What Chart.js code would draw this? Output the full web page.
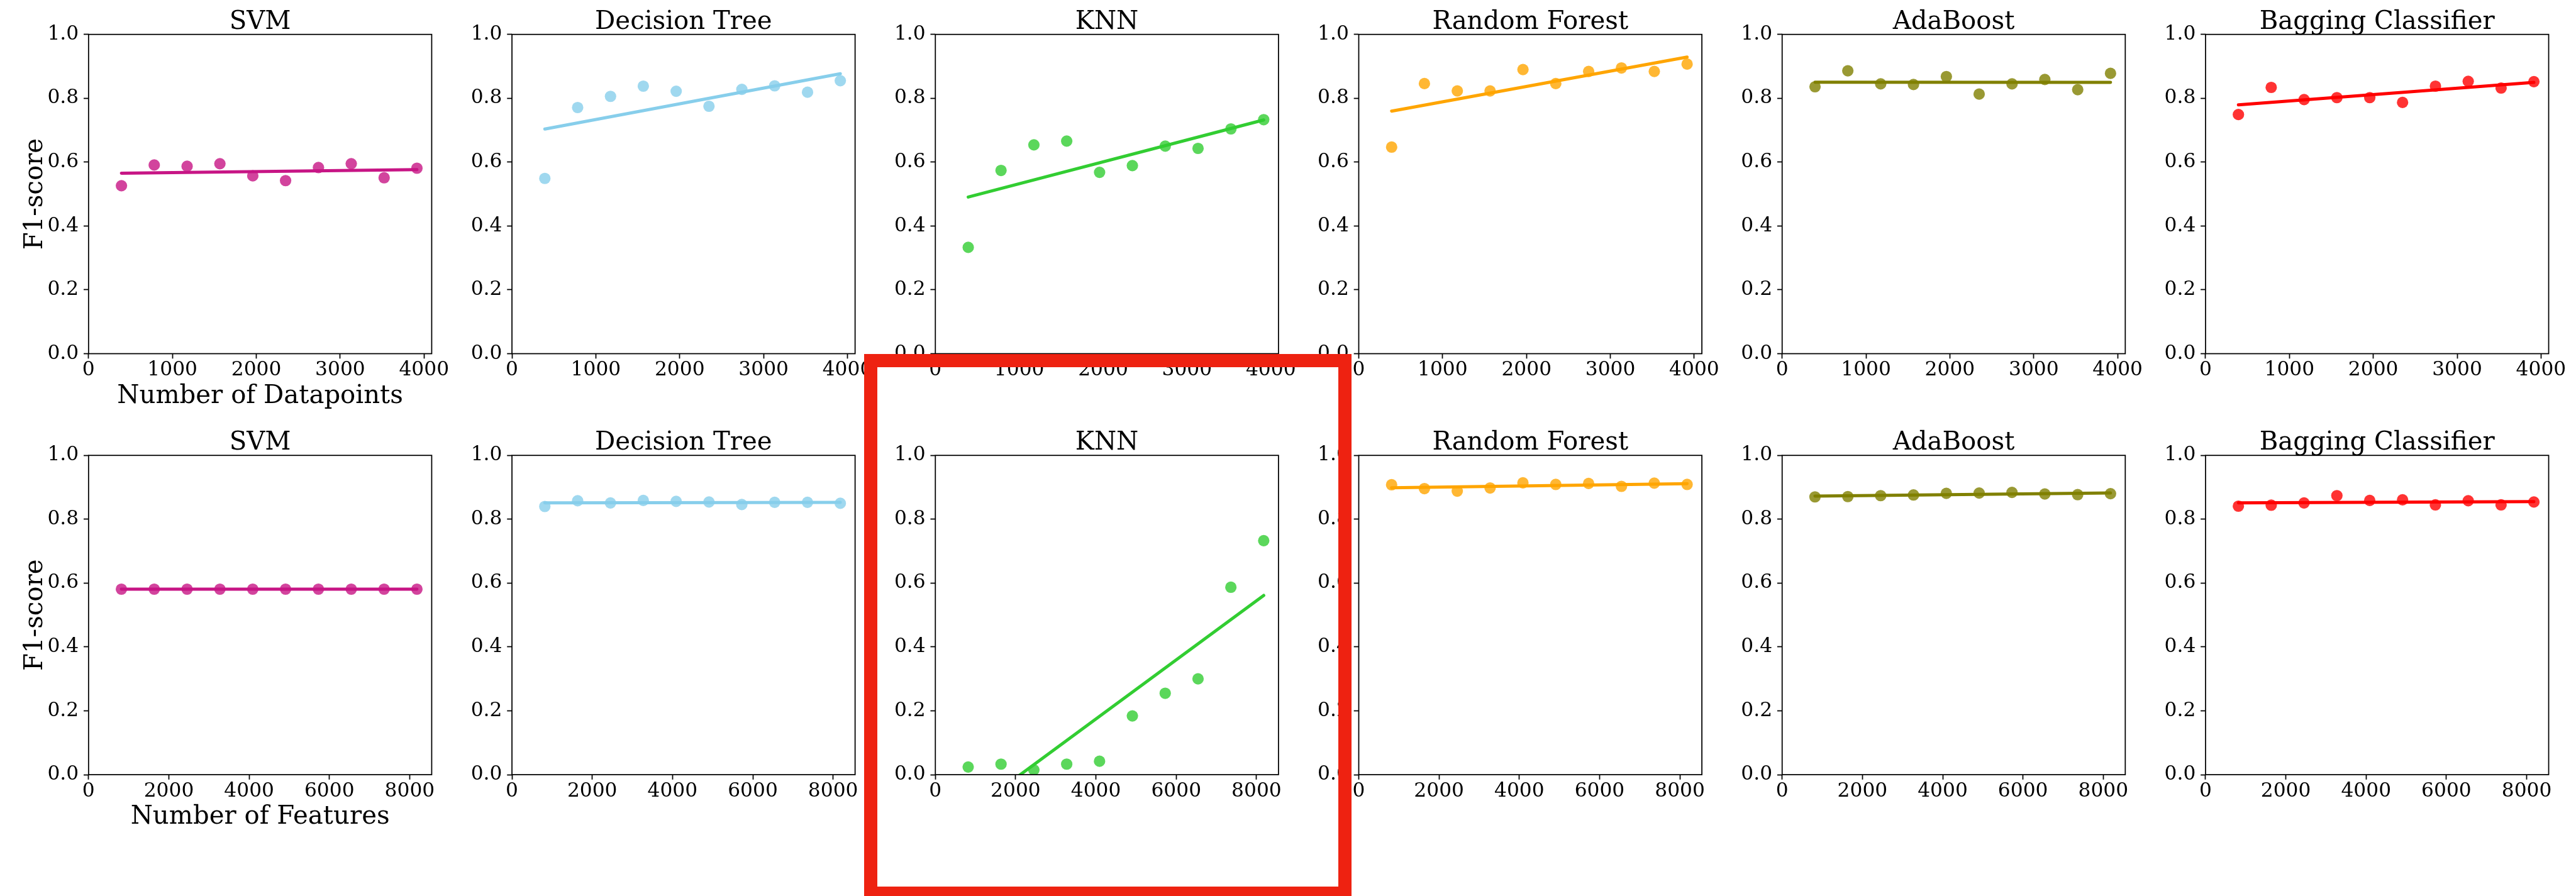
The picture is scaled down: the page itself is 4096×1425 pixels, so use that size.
<!DOCTYPE html>
<html>
<head>
<meta charset="utf-8">
<script src="https://cdn.jsdelivr.net/npm/chart.js@4.4.0/dist/chart.umd.min.js"></script>
<style>
    html, body { margin: 0; padding: 0; background: #fff; }
    #page { position: relative; width: 4096px; height: 1425px; overflow: hidden; background: #fff; }
    #page canvas { position: absolute; }
    #mark { position: absolute; left: 1374px; top: 563px; width: 775px; height: 868px;
            border: 21.7px solid #ee2211; box-sizing: border-box; z-index: 5; }
</style>
</head>
<body>
<div id="page"><div id="mark"></div></div>
<script>
// model names and line colours
var models = ['SVM', 'Decision Tree', 'KNN', 'Random Forest', 'AdaBoost', 'Bagging Classifier'];
var colors = ['199,21,133', '135,206,235', '50,205,50', '255,165,0', '128,128,0', '255,0,0'];

// x values
var nDatapoints = [392, 783, 1175, 1566, 1958, 2349, 2741, 3132, 3524, 3915];
var nFeatures = [818, 1636, 2454, 3272, 4090, 4908, 5726, 6544, 7362, 8180];

// F1-score vs number of datapoints
var svmData = [0.526, 0.591, 0.587, 0.595, 0.557, 0.542, 0.583, 0.595, 0.551, 0.581];
var dtData  = [0.549, 0.771, 0.806, 0.838, 0.822, 0.775, 0.828, 0.839, 0.819, 0.855];
var knnData = [0.333, 0.574, 0.654, 0.666, 0.568, 0.589, 0.650, 0.643, 0.704, 0.733];
var rfData  = [0.647, 0.846, 0.823, 0.823, 0.890, 0.846, 0.884, 0.895, 0.884, 0.907];
var adaData = [0.836, 0.886, 0.845, 0.843, 0.868, 0.813, 0.845, 0.859, 0.827, 0.878];
var bagData = [0.749, 0.834, 0.796, 0.802, 0.802, 0.787, 0.838, 0.853, 0.832, 0.852];

// F1-score vs number of features
var svmFeat = [0.581, 0.581, 0.581, 0.581, 0.581, 0.581, 0.581, 0.581, 0.581, 0.581];
var dtFeat  = [0.840, 0.858, 0.851, 0.859, 0.856, 0.854, 0.846, 0.853, 0.853, 0.850];
var knnFeat = [0.024, 0.033, 0.015, 0.033, 0.042, 0.184, 0.255, 0.300, 0.587, 0.733];
var rfFeat  = [0.908, 0.896, 0.888, 0.898, 0.914, 0.909, 0.912, 0.903, 0.913, 0.909];
var adaFeat = [0.870, 0.871, 0.874, 0.876, 0.881, 0.882, 0.884, 0.879, 0.877, 0.880];
var bagFeat = [0.841, 0.844, 0.851, 0.874, 0.859, 0.861, 0.845, 0.858, 0.845, 0.854];

// tick labels
var dataTicks = [0, 1000, 2000, 3000, 4000];
var featTicks = [0, 2000, 4000, 6000, 8000];
var f1Ticks = [0, 0.2, 0.4, 0.6, 0.8, 1.0];

var rows = [
    { xs: nDatapoints, xticks: dataTicks, xlabel: 'Number of Datapoints',
      series: [svmData, dtData, knnData, rfData, adaData, bagData] },
    { xs: nFeatures, xticks: featTicks, xlabel: 'Number of Features',
      series: [svmFeat, dtFeat, knnFeat, rfFeat, adaFeat, bagFeat] }
];

// geometry measured on the 5090px wide original, scaled down
var S = 4096 / 5090;
var PLOT_LEFT = 175, PLOT_STEP = 836.6, PLOT_W = 678 * S, PLOT_H = 631 * S;
var ROW_TOP = [68, 900];
var TICK_PX = 38.9 * S, LABEL_PX = 50 * S;
var FONT = '"DejaVu Serif", "Liberation Serif", serif';

function fitLine(xs, ys) {
    var n = xs.length, mx = 0, my = 0, sxy = 0, sxx = 0;
    for (var i = 0; i < n; i++) { mx += xs[i]; my += ys[i]; }
    mx /= n; my /= n;
    for (var i = 0; i < n; i++) {
        sxy += (xs[i] - mx) * (ys[i] - my);
        sxx += (xs[i] - mx) * (xs[i] - mx);
    }
    var b = sxy / sxx, a = my - b * mx;
    return [{ x: xs[0], y: a + b * xs[0] }, { x: xs[n - 1], y: a + b * xs[n - 1] }];
}

function makePanel(r, c) {
    var row = rows[r];
    var xs = row.xs, ys = row.series[c];
    var xmax = xs[xs.length - 1] + 0.05 * (xs[xs.length - 1] - xs[0]);

    var L = (PLOT_LEFT + c * PLOT_STEP) * S, T = ROW_TOP[r] * S;
    var left = Math.floor(L - 140), top = Math.floor(T - 54);
    var padL = L - left, padT = T - top;
    var width = Math.ceil(padL + PLOT_W + 45), height = Math.ceil(padT + PLOT_H + 100);
    var padR = width - padL - PLOT_W, padB = height - padT - PLOT_H;

    var canvas = document.createElement('canvas');
    canvas.width = width; canvas.height = height;
    canvas.style.left = left + 'px'; canvas.style.top = top + 'px';
    canvas.style.width = width + 'px'; canvas.style.height = height + 'px';
    document.getElementById('page').appendChild(canvas);

    var pts = xs.map(function (x, i) { return { x: x, y: ys[i] }; });

    var frame = {
        id: 'frame',
        afterDraw: function (chart) {
            var a = chart.chartArea, ctx = chart.ctx;
            ctx.save();
            ctx.strokeStyle = '#000';
            ctx.lineWidth = 2.2 * S;
            ctx.strokeRect(a.left, a.top, a.right - a.left, a.bottom - a.top);
            ctx.fillStyle = '#000';
            ctx.textAlign = 'center';
            ctx.textBaseline = 'alphabetic';
            ctx.font = LABEL_PX + 'px ' + FONT;
            ctx.fillText(models[c], (a.left + a.right) / 2, a.top - 11 * S);
            if (c === 0) {
                ctx.fillText(row.xlabel, (a.left + a.right) / 2, a.bottom + 97.5 * S);
                ctx.translate(a.left - 92 * S, (a.top + a.bottom) / 2);
                ctx.rotate(-Math.PI / 2);
                ctx.fillText('F1-score', 0, 0);
            }
            ctx.restore();
        }
    };

    var gridOpts = {
        drawOnChartArea: false, drawTicks: true,
        tickLength: 9.7 * S, tickWidth: 2.2 * S, tickColor: '#000'
    };

    return new Chart(canvas, {
        type: 'scatter',
        data: {
            datasets: [
                {
                    data: pts, order: 1, clip: 0,
                    pointRadius: 11.3 * S, pointHoverRadius: 11.3 * S,
                    pointBackgroundColor: 'rgba(' + colors[c] + ',0.8)',
                    pointBorderWidth: 0, borderWidth: 0
                },
                {
                    data: fitLine(xs, ys), order: 0, clip: 0, showLine: true,
                    borderColor: 'rgb(' + colors[c] + ')', borderWidth: 6.2 * S,
                    borderCapStyle: 'round', pointRadius: 0, pointHoverRadius: 0, fill: false
                }
            ]
        },
        options: {
            responsive: false,
            animation: false,
            events: [],
            layout: { padding: { left: 0, top: padT, right: padR, bottom: 0 } },
            plugins: { legend: { display: false }, tooltip: { enabled: false }, title: { display: false } },
            scales: {
                x: {
                    type: 'linear', min: 0, max: xmax,
                    afterFit: function (s) { s.height = padB; },
                    afterBuildTicks: function (ax) { ax.ticks = row.xticks.map(function (v) { return { value: v }; }); },
                    ticks: {
                        callback: function (v) { return String(v); },
                        font: { family: FONT, size: TICK_PX }, color: '#000',
                        padding: 0, maxRotation: 0, autoSkip: false
                    },
                    grid: gridOpts,
                    border: { display: false }
                },
                y: {
                    type: 'linear', min: 0, max: 1,
                    afterFit: function (s) { s.width = padL; },
                    afterBuildTicks: function (ax) { ax.ticks = f1Ticks.map(function (v) { return { value: v }; }); },
                    ticks: {
                        callback: function (v) { return v.toFixed(1); },
                        font: { family: FONT, size: TICK_PX }, color: '#000',
                        padding: 7.8, autoSkip: false
                    },
                    grid: gridOpts,
                    border: { display: false }
                }
            }
        },
        plugins: [frame]
    });
}

for (var r = 0; r < rows.length; r++) {
    for (var c = 0; c < models.length; c++) {
        makePanel(r, c);
    }
}
</script>
</body>
</html>
